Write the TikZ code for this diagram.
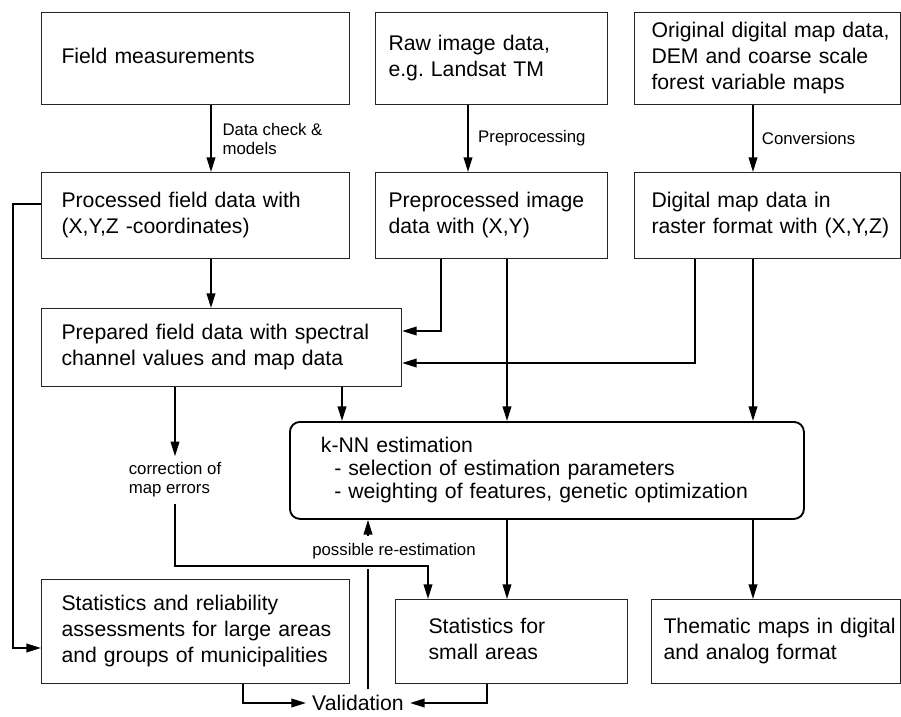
\documentclass[tikz,border=0pt]{standalone}
\usepackage{fontspec}
\setmainfont{Liberation Sans}
\usetikzlibrary{arrows.meta}
\newcommand\boxtext[1]{\begin{tabular}{@{}l@{}}#1\end{tabular}}

\begin{document}
\begin{tikzpicture}[x=.75pt, y=-.75pt,
    box/.style n args={3}{draw=black!85, line width=.8pt, anchor=north west,
      minimum width=#1*.75pt, minimum height=#2*.75pt, inner xsep=#3*.75pt, inner ysep=0pt,
      text width=(#1-2*#3)*.75pt, align=left, font=\fontsize{15.9pt}{19.5pt}\selectfont},
    arr/.style={line width=1.3pt, -{Triangle[length=11pt,width=6.5pt]}},
    lbl/.style={font=\fontsize{12.6pt}{14.25pt}\selectfont, align=left, inner sep=0pt}]
  \useasboundingbox (0,0) rectangle (901,717);
  \node[box={308}{92}{20}] (fm) at (41,12) {\boxtext{Field measurements}};
  \node[box={232}{92}{13}] (raw) at (375,12) {\boxtext{Raw image data,\\e.g.\ Landsat TM}};
  \node[box={266}{92}{17}] (orig) at (634,12) {\boxtext{Original digital map data,\\DEM and coarse scale\\forest variable maps}};
  \node[box={308}{86}{20}] (proc) at (41,172) {\boxtext{Processed field data with\\(X,Y,Z -coordinates)}};
  \node[box={232}{86}{13}] (prep) at (375,172) {\boxtext{Preprocessed image\\data with (X,Y)}};
  \node[box={266}{86}{17}] (dig) at (634,172) {\boxtext{Digital map data in\\raster format with (X,Y,Z)}};
  \node[box={360}{78}{20}] (fld) at (41,308) {\boxtext{Prepared field data with spectral\\channel values and map data}};
  \node[box={514}{97}{31}, draw=black, line width=1.4pt, rounded corners=7.5pt,
        font=\fontsize{15.9pt}{17.25pt}\selectfont] (knn) at (289,421)
       {\boxtext{k-NN estimation\\\hspace*{10pt}- selection of estimation parameters\\\hspace*{10pt}- weighting of features, genetic optimization}};
  \node[box={308}{104}{20}] (stat) at (41,579) {\boxtext{Statistics and reliability\\assessments for large areas\\and groups of municipalities}};
  \node[box={232}{84}{33}] (small) at (395,599) {\boxtext{Statistics for\\small areas}};
  \node[box={249}{84}{12}] (them) at (651,599) {\boxtext{Thematic maps in digital\\and analog format}};
  \node[lbl, inner ysep=4.6pt] (corr) at (175,480) {correction of\\map errors};
  \node[lbl, inner ysep=5.5pt] (reest) at (394,551) {possible re-estimation};
  \node[font=\fontsize{15.9pt}{19.5pt}\selectfont, inner xsep=4.5pt, inner ysep=1.2pt] (valid) at (358,703) {Validation};
  \coordinate (hop) at (368,569);
  \draw[arr] (fm.south -| 211,0) -- (proc.north -| 211,0) node[lbl, midway, right=8pt] {Data check \&\\models};
  \draw[arr] (raw.south -| 468,0) -- (prep.north -| 468,0) node[lbl, midway, right=7pt] {Preprocessing};
  \draw[arr] (orig.south -| 753,0) -- (dig.north -| 753,0) node[lbl, midway, right=6pt] {Conversions};
  \draw[arr] (proc.south -| 211,0) -- (fld.north -| 211,0);
  \draw[arr] (prep.south -| 441,0) |- (fld.east |- 0,331);
  \draw[arr] (dig.south -| 695,0) |- (fld.east |- 0,363);
  \draw[arr] (prep.south -| 507,0) -- (knn.north -| 507,0);
  \draw[arr] (dig.south -| 753,0) -- (knn.north -| 753,0);
  \draw[arr] (fld.south -| 342,0) -- (knn.north -| 342,0);
  \draw[arr] (fld.south -| 175,0) -- (corr.north);
  \draw[arr] (corr.south) |- (428,566) -- (small.north -| 428,0);
  \draw[arr] (knn.south -| 507,0) -- (small.north -| 507,0);
  \draw[arr] (knn.south -| 753,0) -- (them.north -| 753,0);
  \draw[arr] (proc.west |- 0,204) -- ++(-28,0) |- (stat.west |- 0,648);
  \draw[arr] (stat.south -| 243,0) |- (valid.west);
  \draw[arr] (small.south -| 487,0) |- (valid.east);
  \draw[line width=1.3pt] ([yshift=3pt]valid.north -| hop) -- (hop);
  \draw[arr] (reest.north -| hop) -- (knn.south -| hop);
\end{tikzpicture}
\end{document}
